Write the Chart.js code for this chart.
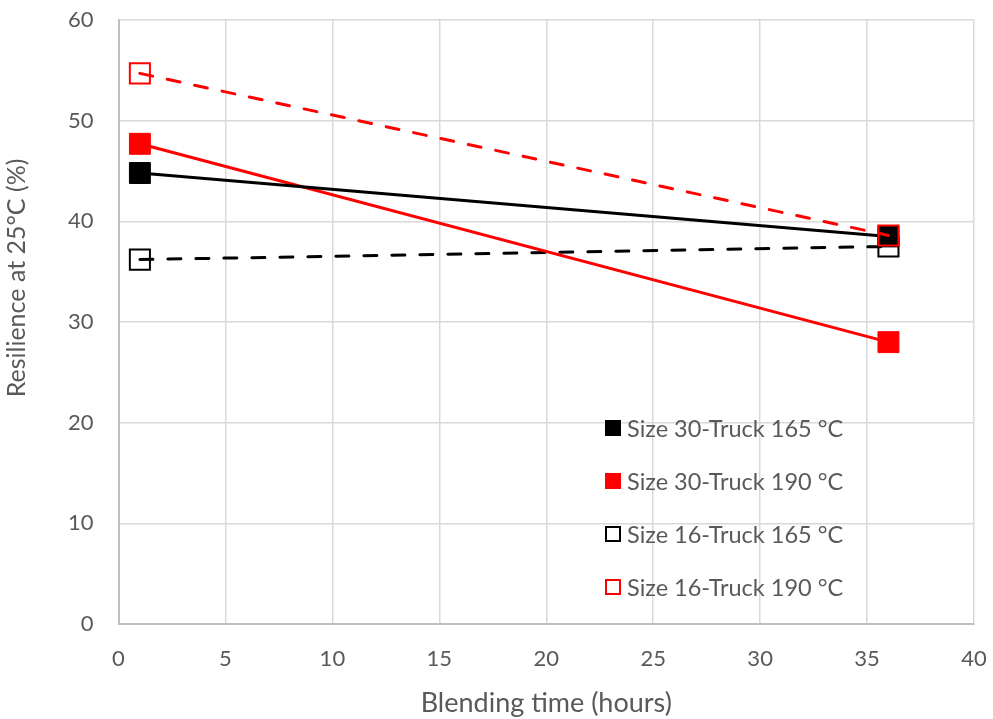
<!DOCTYPE html>
<html>
<head>
<meta charset="utf-8">
<script src="https://cdn.jsdelivr.net/npm/chart.js@4.4.1/dist/chart.umd.min.js"></script>
<style>
  html, body { margin: 0; padding: 0; background: #ffffff; }
  #wrap { width: 993px; height: 719px; position: relative; }
</style>
</head>
<body>
<div id="wrap"><canvas id="c" width="993" height="719"></canvas></div>
<script>
// ---- Data ----
const blendingHours = [1, 36];
const size30Truck165 = [44.8, 38.5];
const size30Truck190 = [47.7, 28.0];
const size16Truck165 = [36.2, 37.5];
const size16Truck190 = [54.7, 38.6];
const seriesNames = [
  'Size 30-Truck 165 °C',
  'Size 30-Truck 190 °C',
  'Size 16-Truck 165 °C',
  'Size 16-Truck 190 °C'
];
const xTicks = [0, 5, 10, 15, 20, 25, 30, 35, 40];
const yTicks = [0, 10, 20, 30, 40, 50, 60];
const xTitle = 'Blending time (hours)';
const yTitle = 'Resilience at 25°C (%)';

const FONT = "Lato, 'Open Sans', sans-serif";
const toPts = (ys) => blendingHours.map((x, i) => ({ x: x, y: ys[i] }));

const styles = [
  { color: '#000000', fill: '#000000', dash: [], open: false, order: 2 },
  { color: '#ff0000', fill: '#ff0000', dash: [], open: false, order: 3 },
  { color: '#000000', fill: 'rgba(255,255,255,0)', dash: [13, 15], open: true, order: 4 },
  { color: '#ff0000', fill: 'rgba(255,255,255,0)', dash: [13, 15], open: true, order: 1 }
];
const seriesValues = [size30Truck165, size30Truck190, size16Truck165, size16Truck190];

const datasets = seriesValues.map((vals, i) => ({
  label: seriesNames[i],
  data: toPts(vals),
  showLine: true,
  borderColor: styles[i].color,
  backgroundColor: styles[i].fill,
  borderWidth: 3,
  borderDash: styles[i].dash,
  borderCapStyle: 'round',
  pointStyle: 'rect',
  pointRadius: styles[i].open ? 14.2 : 14.8,
  pointHoverRadius: styles[i].open ? 14.2 : 14.8,
  pointBorderWidth: styles[i].open ? 2 : 1,
  pointBorderColor: styles[i].color,
  pointBackgroundColor: styles[i].fill,
  order: styles[i].order
}));

// custom in-plot legend + y-axis title (offset like the original)
const inPlotLegend = {
  id: 'inPlotLegend',
  afterDraw(chart) {
    const ctx = chart.ctx;
    const rowsY = [428, 481, 534, 587];
    ctx.save();
    ctx.font = "23.5px " + FONT;
    ctx.textBaseline = 'middle';
    chart.data.datasets.forEach((ds, i) => {
      const y = rowsY[i];
      const cx = 613;
      if (!styles[i].open) {
        ctx.fillStyle = styles[i].fill;
        ctx.fillRect(cx - 8, y - 8, 16, 16);
      } else {
        ctx.fillStyle = '#ffffff';
        ctx.fillRect(cx - 7, y - 7, 14, 14);
        ctx.strokeStyle = styles[i].color;
        ctx.lineWidth = 2;
        ctx.strokeRect(cx - 7, y - 7, 14, 14);
      }
      ctx.fillStyle = '#595959';
      ctx.textAlign = 'left';
      ctx.fillText(ds.label, 627, y + 1);
    });
    // y-axis title
    ctx.translate(17, 278);
    ctx.rotate(-Math.PI / 2);
    ctx.font = "25px " + FONT;
    ctx.textAlign = 'center';
    ctx.textBaseline = 'middle';
    ctx.fillStyle = '#595959';
    ctx.fillText(yTitle, 0, 0);
    ctx.restore();
  }
};

new Chart(document.getElementById('c'), {
  type: 'scatter',
  data: { datasets: datasets },
  plugins: [inPlotLegend],
  options: {
    responsive: false,
    animation: false,
    layout: { padding: { left: 0, right: 19, top: 20, bottom: 0 } },
    plugins: {
      legend: { display: false },
      tooltip: { enabled: false }
    },
    scales: {
      x: {
        type: 'linear',
        min: xTicks[0],
        max: xTicks[xTicks.length - 1],
        afterBuildTicks: (s) => { s.ticks = xTicks.map(v => ({ value: v })); },
        grid: { color: '#d9d9d9', lineWidth: 1.5, drawTicks: false },
        border: { color: '#bfbfbf', width: 2 },
        ticks: { color: '#595959', font: { family: FONT, size: 22 }, padding: 22 },
        title: { display: true, text: xTitle, color: '#595959', font: { family: FONT, size: 27 }, padding: { top: 0, bottom: 0 } },
        afterFit: (s) => { s.height = 95; s.paddingLeft = 0; s.paddingRight = 0; }
      },
      y: {
        type: 'linear',
        min: yTicks[0],
        max: yTicks[yTicks.length - 1],
        afterBuildTicks: (s) => { s.ticks = yTicks.map(v => ({ value: v })); },
        grid: { color: '#d9d9d9', lineWidth: 1.5, drawTicks: false },
        border: { color: '#bfbfbf', width: 2 },
        ticks: { color: '#595959', font: { family: FONT, size: 22 }, padding: 25 },
        title: { display: false },
        afterFit: (s) => { s.width = 118.5; s.paddingTop = 0; s.paddingBottom = 0; }
      }
    }
  }
});
</script>
</body>
</html>
